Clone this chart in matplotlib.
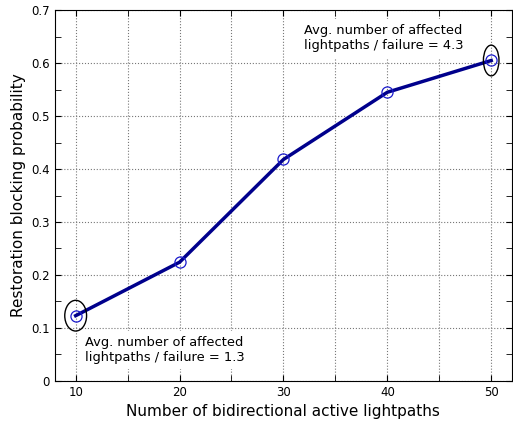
import matplotlib
matplotlib.use("Agg")
import matplotlib.pyplot as plt
from matplotlib.patches import Ellipse
from matplotlib.ticker import MultipleLocator, FuncFormatter

# data
lightpaths = [10, 20, 30, 40, 50]
blocking = [0.123, 0.224, 0.418, 0.545, 0.605]

fig = plt.figure(figsize=(5.13, 4.25), dpi=100)
ax = fig.add_axes([0.107, 0.104, 0.891, 0.872])

ax.plot(lightpaths, blocking, color="#00008c", lw=2.5, marker="o",
        markersize=8, markerfacecolor="none", markeredgecolor="#1a1acc",
        markeredgewidth=0.9, zorder=3)

# ellipses marking the annotated points
ax.add_patch(Ellipse((lightpaths[0], blocking[0]), 2.1, 0.058, fill=False, ec="black", lw=1.0, zorder=4))
ax.add_patch(Ellipse((lightpaths[-1], blocking[-1]), 1.5, 0.058, fill=False, ec="black", lw=1.0, zorder=4))

box = dict(facecolor="white", edgecolor="none", pad=4)
ax.text(10.9, 0.084, "Avg. number of affected\nlightpaths / failure = 1.3",
        fontsize=9.4, va="top", ha="left", linespacing=1.15, bbox=box, zorder=5)
ax.text(32.0, 0.673, "Avg. number of affected\nlightpaths / failure = 4.3",
        fontsize=9.4, va="top", ha="left", linespacing=1.15, bbox=box, zorder=5)

ax.set_xlim(8, 52)
ax.set_ylim(0, 0.7)
ax.set_xticks([10, 20, 30, 40, 50])
ax.xaxis.set_minor_locator(MultipleLocator(5))
ax.yaxis.set_major_locator(MultipleLocator(0.1))
ax.yaxis.set_minor_locator(MultipleLocator(0.05))
ax.yaxis.set_major_formatter(FuncFormatter(lambda v, p: "0" if abs(v) < 1e-9 else f"{v:.1f}"))

ax.tick_params(which="both", direction="in", top=True, right=True, labelsize=8.5)
ax.tick_params(which="major", length=4)
ax.tick_params(which="minor", length=4)

ax.grid(True, which="major", axis="y", color="#777777", ls=":", lw=0.8)
ax.grid(True, which="both", axis="x", color="#777777", ls=":", lw=0.8)

ax.set_xlabel("Number of bidirectional active lightpaths", fontsize=11)
ax.set_ylabel("Restoration blocking probability", fontsize=11)

fig.savefig("out.png", dpi=100)
